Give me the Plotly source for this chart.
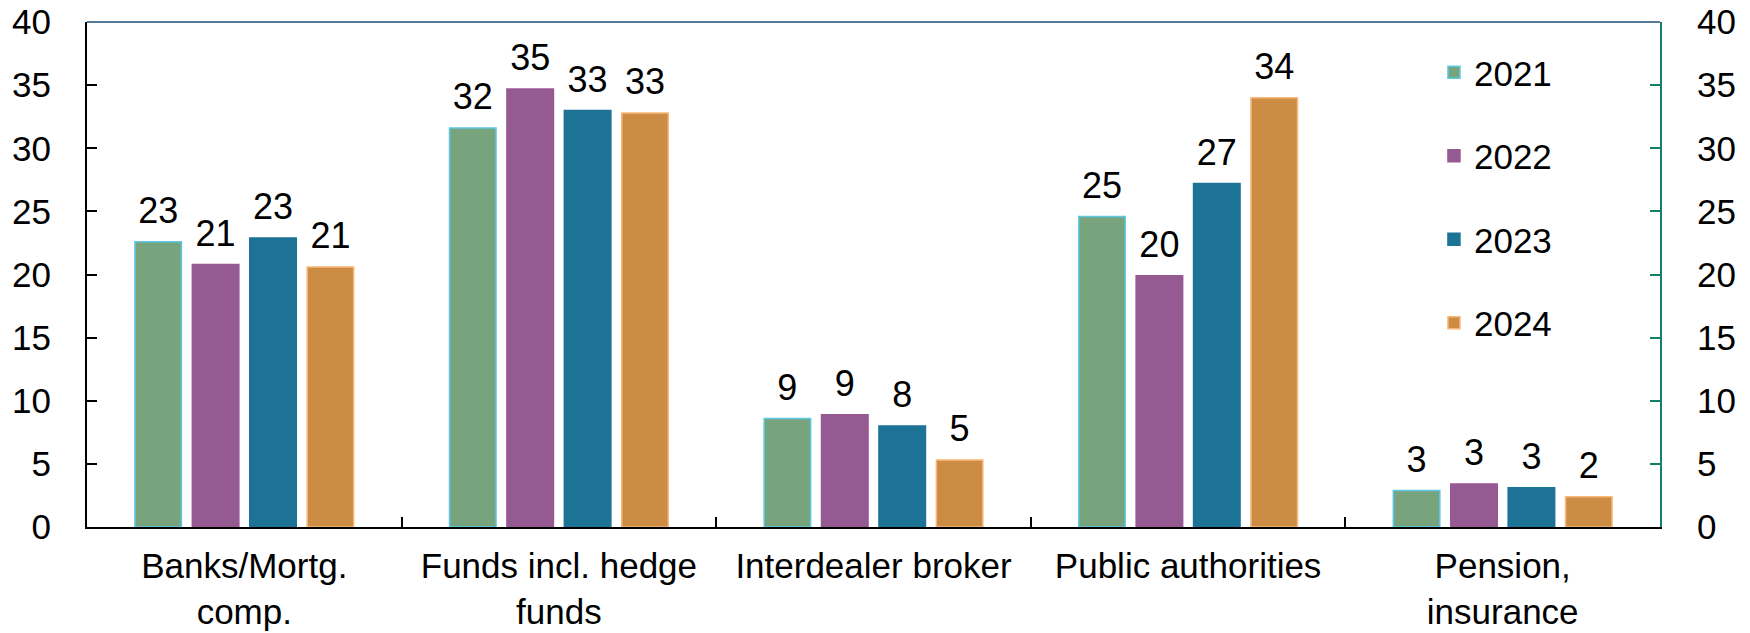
import plotly.graph_objects as go

categories = ["Banks/Mortg.<br>comp.", "Funds incl. hedge<br>funds", "Interdealer broker",
              "Public authorities", "Pension,<br>insurance"]
years = ["2021", "2022", "2023", "2024"]
v2021 = [22.6, 31.6, 8.6, 24.6, 2.9]
v2022 = [20.8, 34.7, 8.9, 19.9, 3.4]
v2023 = [22.9, 33.0, 8.0, 27.2, 3.1]
v2024 = [20.6, 32.8, 5.3, 34.0, 2.4]
series = [v2021, v2022, v2023, v2024]
y_ticks = [0, 5, 10, 15, 20, 25, 30, 35, 40]

fills = ["#78A47D", "#965A93", "#1D7396", "#CD8C43"]
outlines = ["#5BC8E8", "#965A93", "#1D7396", "#F9B87A"]

FONT = "Liberation Sans, Arial, sans-serif"
W, H = 1750, 633
L, R, T, B = 87, 90, 22, 106
GAP = 0.27

fig = go.Figure()
for name, vals, fc, lc in zip(years, series, fills, outlines):
    fig.add_trace(go.Bar(
        x=categories, y=vals, name=name, legendgroup=name,
        marker=dict(color=fc, line=dict(color=lc, width=1.5)),
        hoverinfo="x+y+name",
    ))
# value labels, grouped the same way as the bars
for name, vals in zip(years, series):
    fig.add_trace(go.Scatter(
        x=categories, y=vals, mode="markers+text", legendgroup=name,
        text=[f"{v:.0f}" for v in vals], textposition="top center",
        textfont=dict(family=FONT, size=36, color="black"),
        marker=dict(size=14, opacity=0), showlegend=False,
        hoverinfo="skip", cliponaxis=False, orientation="v",
    ))

# empty trace so that the right-hand axis is drawn
fig.add_trace(go.Scatter(x=[], y=[], yaxis="y2", showlegend=False, hoverinfo="skip"))

fig.update_layout(
    width=W, height=H,
    margin=dict(l=L, r=R, t=T, b=B),
    paper_bgcolor="white", plot_bgcolor="white",
    font=dict(family=FONT, size=35, color="black"),
    barmode="group", bargap=GAP, bargroupgap=0.19,
    scattermode="group", scattergap=GAP,
    xaxis=dict(type="category", showline=True, linecolor="black", linewidth=2,
               ticks="inside", ticklen=10, tickwidth=1.5, tickcolor="black",
               tickson="boundaries", showgrid=False, automargin=False,
               tickfont=dict(family=FONT, size=35, color="black"),
               ticklabelstandoff=7),
    yaxis=dict(range=[0, 40], tickvals=y_ticks, showline=True, linecolor="black",
               linewidth=2, ticks="inside", ticklen=10, tickwidth=1.5,
               tickcolor="black", showgrid=False, zeroline=False, automargin=False,
               tickfont=dict(family=FONT, size=35, color="black"),
               ticklabelstandoff=27),
    yaxis2=dict(range=[0, 40], tickvals=y_ticks, overlaying="y", side="right",
                showline=True, linecolor="#13806C", linewidth=2, ticks="inside",
                ticklen=10, tickwidth=1.5, tickcolor="#13806C", showgrid=False,
                zeroline=False, automargin=False,
                tickfont=dict(family=FONT, size=35, color="black"),
                ticklabelstandoff=28),
    legend=dict(x=0.8563, y=0.9584, xanchor="left", yanchor="top",
                bgcolor="rgba(0,0,0,0)", borderwidth=0, tracegroupgap=35,
                traceorder="grouped",
                font=dict(family=FONT, size=35, color="black")),
    shapes=[dict(type="line", xref="paper", yref="paper", x0=0, x1=1, y0=1, y1=1,
                 line=dict(color="#1F4E79", width=1.5))],
)

fig.write_html("out.html", config={"displayModeBar": False},
               post_script="document.body.style.margin='0';")
